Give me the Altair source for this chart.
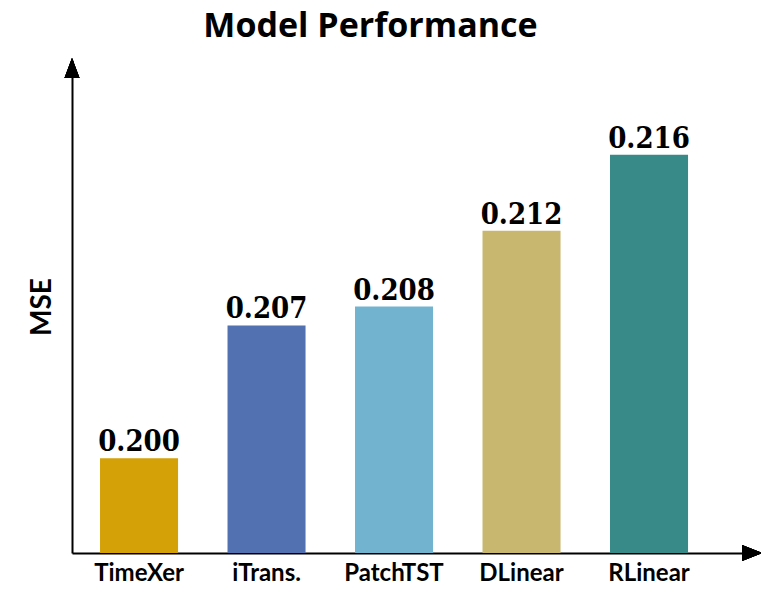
import altair as alt
import pandas as pd

models = ["TimeXer", "iTrans.", "PatchTST", "DLinear", "RLinear"]
mse = [0.200, 0.207, 0.208, 0.212, 0.216]
labels = ["0.200", "0.207", "0.208", "0.212", "0.216"]
colors = ["#D4A106", "#5271B0", "#72B4CF", "#C8B76E", "#388A88"]

df = pd.DataFrame({"model": models, "mse": mse, "label": labels})

W, H = 683, 493

x = alt.X("model:N", sort=models, title=None,
          scale=alt.Scale(paddingInner=0.388, paddingOuter=0.3725, align=0.295),
          axis=alt.Axis(labelAngle=0, ticks=False, domain=True, domainColor="black",
                        domainWidth=2, labelFont="Lato", labelFontWeight="bold",
                        labelFontSize=24, labelColor="black", labelPadding=27,
                        labelBaseline="alphabetic"))
y = alt.Y("mse:Q", title="MSE",
          scale=alt.Scale(domain=[0.195, 0.221], nice=False, zero=False, clamp=True),
          axis=alt.Axis(labels=False, ticks=False, grid=False, domain=True,
                        domainColor="black", domainWidth=2, titleFont="Lato",
                        titleFontWeight="bold", titleFontSize=28, titleColor="black",
                        titlePadding=16))

bars = alt.Chart(df).mark_bar(clip=True).encode(
    x=x, y=y,
    color=alt.Color("model:N", sort=models,
                    scale=alt.Scale(domain=models, range=colors), legend=None),
)

text = alt.Chart(df).mark_text(baseline="alphabetic", dy=-7, font="DejaVu Serif Condensed, DejaVu Serif",
                               fontWeight="bold", fontSize=29, color="black").encode(
    x=alt.X("model:N", sort=models), y="mse:Q", text="label:N")

up_arrow = alt.Chart(df).mark_point(shape="M0,-1L0.75,1L-0.75,1Z", filled=True, color="black",
                                    opacity=1, size=400).encode(
    x=alt.value(0), y=alt.value(8))
right_arrow = alt.Chart(df).mark_point(shape="M1,0L-1,0.8L-1,-0.8Z", filled=True, color="black",
                                       opacity=1, size=400).encode(
    x=alt.value(680), y=alt.value(H))

chart = alt.layer(bars, text, up_arrow, right_arrow).properties(
    width=W, height=H,
    background="white",
    title=alt.TitleParams("Model Performance", font="Open Sans", fontWeight="bold",
                          fontSize=34, color="black", anchor="middle", dx=-43,
                          frame="group", offset=14),
    autosize=alt.AutoSizeParams(type="none"),
    padding={"left": 64, "top": 52, "right": 6, "bottom": 32},
).configure_view(strokeWidth=0, stroke="transparent")

chart.save("out.html", embed_options={"renderer": "svg", "actions": False})
